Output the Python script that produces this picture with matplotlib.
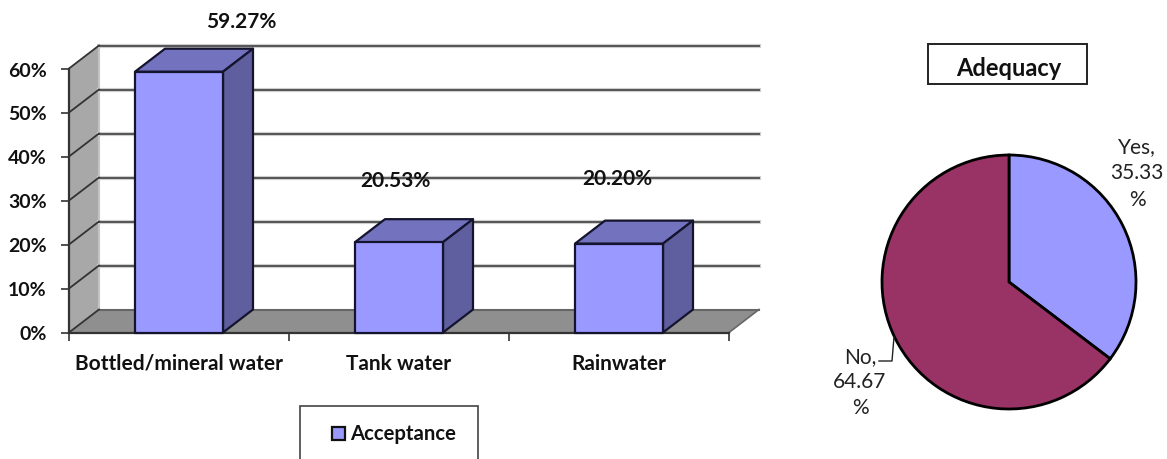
"""Acceptance bar chart with a fake 3D look, and an adequacy pie."""

import matplotlib

matplotlib.use("Agg")
import matplotlib.pyplot as plt
from matplotlib.patches import Polygon, Rectangle

WIDTH, HEIGHT = 1167, 460

sources = ["Bottled/mineral water", "Tank water", "Rainwater"]
acceptance = [59.27, 20.53, 20.20]
y_ticks = [0, 10, 20, 30, 40, 50, 60]

adequacy_labels = ["Yes", "No"]
adequacy_values = [35.33, 64.67]

FRONT = "#9999ff"
TOP = "#7272bf"
SIDE = "#5f5f9f"
EDGE = "#14142e"
WALL = "#a8a8a8"
FLOOR = "#8f8f8f"
GRID = "#555555"
PLUM = "#993366"

plt.rcParams["font.family"] = ["Lato", "DejaVu Sans"]


def fx(px):
    return px / WIDTH


def fy(py):
    return 1 - py / HEIGHT


def px_text(fig, x, y, text, **kwargs):
    kwargs.setdefault("ha", "center")
    kwargs.setdefault("va", "center")
    fig.text(fx(x), fy(y), text, **kwargs)


fig = plt.figure(figsize=(WIDTH / 100, HEIGHT / 100), dpi=100)

# bars: x in category units, y in percent, depth is a constant shear
ax = fig.add_axes([fx(69), fy(333.5), fx(660), 264 / HEIGHT])
ax.set_xlim(0, 3)
ax.set_ylim(0, 60)
dx, dy = 30 / 220, 23 / 4.4
bar_width = 0.4

ax.add_patch(Polygon([(0, 0), (dx, dy), (dx, 60 + dy), (0, 60)], fc=WALL, ec="none", zorder=1, clip_on=False))
ax.add_patch(Polygon([(0, 0), (dx, dy), (3 + dx, dy), (3, 0)], fc=FLOOR, ec="none", zorder=1, clip_on=False))
ax.plot([dx, dx], [dy, 60 + dy], color="#c4c4c4", lw=1.5, zorder=1, clip_on=False)

for tick in y_ticks:
    if tick > 0:
        ax.plot([dx, 3 + dx], [tick + dy] * 2, color="#cfcfcf", lw=3, zorder=2, clip_on=False)
        ax.plot([dx, 3 + dx], [tick + dy] * 2, color=GRID, lw=1.4, zorder=2.1, clip_on=False)
    else:
        ax.plot([dx, 3 + dx], [dy, dy], color="#666666", lw=1.5, zorder=2.1, clip_on=False)
    ax.plot([0, dx], [tick, tick + dy], color="#333333", lw=1.3, zorder=2.1, clip_on=False)
ax.plot([3, 3 + dx], [0, dy], color="#666666", lw=1.2, zorder=2.1, clip_on=False)

for i, value in enumerate(acceptance):
    left = i + 0.5 - bar_width / 2
    right = left + bar_width
    style = dict(ec=EDGE, lw=1.6, joinstyle="round", zorder=3, clip_on=False)
    ax.add_patch(Polygon([(left, value), (left + dx, value + dy), (right + dx, value + dy), (right, value)],
                         fc=TOP, **style))
    ax.add_patch(Polygon([(right, 0), (right + dx, dy), (right + dx, value + dy), (right, value)], fc=SIDE, **style))
    ax.add_patch(Rectangle((left, 0), bar_width, value, fc=FRONT, **style))

ax.set_yticks(y_ticks, [f"{t}%" for t in y_ticks], fontsize=14, fontweight="bold", color="#111111")
ax.set_xticks([0, 1, 2, 3], ["", "", "", ""])
ax.set_xticks([0.5, 1.5, 2.5], sources, minor=True, fontsize=15, fontweight="bold", color="#111111")
ax.tick_params(axis="y", length=6, width=1.2, color="#333333", pad=10)
ax.tick_params(axis="x", which="major", length=6, width=1.2, color="#333333")
ax.tick_params(axis="x", which="minor", length=0, pad=14.5)
ax.patch.set_visible(False)
for side in ("top", "right"):
    ax.spines[side].set_visible(False)
for side in ("left", "bottom"):
    ax.spines[side].set_linewidth(1.6)
    ax.spines[side].set_color("#333333")
    ax.spines[side].set_zorder(2.5)

label_spots = [(241, 22), (395, 181), (617, 179)]
for (x, y), value in zip(label_spots, acceptance):
    px_text(fig, x, y, f"{value:.2f}%", fontsize=15, fontweight="bold", color="#111111")

# legend box runs off the bottom edge
fig.add_artist(Rectangle((fx(300), fy(480)), fx(178), 73 / HEIGHT, fc="white", ec="#444444", lw=1.2,
                         transform=fig.transFigure))
fig.add_artist(Rectangle((fx(332), fy(441)), fx(13), 13 / HEIGHT, fc=FRONT, ec="#111111", lw=1.6,
                         transform=fig.transFigure))
px_text(fig, 350, 434, "Acceptance", ha="left", fontsize=14.6, fontweight="bold", color="#111111")

# pie
pie_ax = fig.add_axes([fx(882), fy(410), fx(254), 254 / HEIGHT])
pie_ax.pie(adequacy_values, colors=[FRONT, PLUM], startangle=90, counterclock=False, radius=1,
           wedgeprops=dict(edgecolor="black", linewidth=2))
pie_ax.set_xlim(-1, 1)
pie_ax.set_ylim(-1, 1)
for wedge in pie_ax.patches:
    wedge.set_clip_on(False)

fig.add_artist(Rectangle((fx(928), fy(85)), fx(159), 40 / HEIGHT, fc="white", ec="#222222", lw=1.4,
                         transform=fig.transFigure))
px_text(fig, 1009, 69, "Adequacy", fontsize=17, fontweight="bold", color="#111111")

for y, text in zip([147, 173, 200], [f"{adequacy_labels[0]},", f"{adequacy_values[0]:.2f}", "%"]):
    px_text(fig, 1137, y, text, fontsize=15, color="#222222")
for y, text in zip([357, 382, 408], [f"{adequacy_labels[1]},", f"{adequacy_values[1]:.2f}", "%"]):
    px_text(fig, 860, y, text, fontsize=15, color="#222222")
fig.add_artist(plt.Line2D([fx(879), fx(892), fx(894)], [fy(362), fy(362), fy(338)], color="#222222", lw=1))

fig.savefig("out.png", dpi=100)
